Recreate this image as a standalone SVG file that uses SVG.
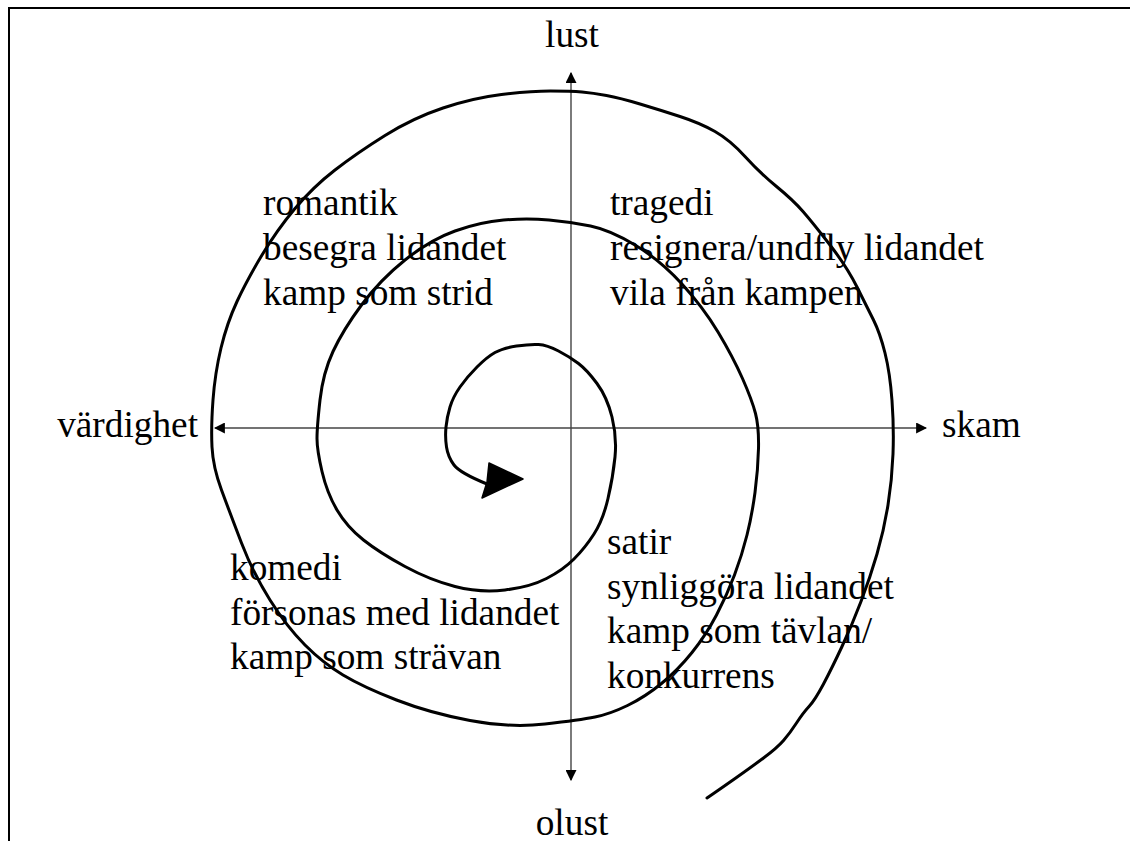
<svg xmlns="http://www.w3.org/2000/svg" width="1130" height="841" viewBox="0 0 1130 841">
<defs>
<marker id="ah" viewBox="0 0 10 10" refX="9" refY="5" markerWidth="11" markerHeight="11" markerUnits="userSpaceOnUse" orient="auto">
<path d="M0,0 L10,5 L0,10 Z" fill="#000"/>
</marker>
</defs>
<style>
.t{font-family:"Liberation Serif","Times New Roman",serif;font-size:37.3px;fill:#000}
.ax{stroke:#444;stroke-width:1.4;fill:none}
.sp{stroke:#000;stroke-width:3;fill:none;stroke-linejoin:round;stroke-linecap:round}
</style>
<rect width="1130" height="841" fill="#fff"/>
<g id="frame" stroke="#000" stroke-width="2" fill="none">
<path d="M9,841 L9,8 L1130,8"/>
</g>
<g id="axes">
<line class="ax" x1="571" y1="428" x2="571" y2="73" marker-end="url(#ah)"/>
<line class="ax" x1="571" y1="428" x2="571" y2="780" marker-end="url(#ah)"/>
<line class="ax" x1="571" y1="428" x2="926" y2="428" marker-end="url(#ah)"/>
<line class="ax" x1="571" y1="428" x2="215" y2="428" marker-end="url(#ah)"/>
</g>
<g id="spiral">
<path class="sp" d="M707,798 L715,792.5 Q723,787 736.5,777.5 Q750,768 763.5,758 Q777,748 783.5,740.5 Q790,733 796.5,723 Q803,713 809,706.5 Q815,700 823.5,684 Q832,668 842,646.5 Q852,625 861,601.5 Q870,578 877,554 Q884,530 888,505 Q892,480 893,454 Q894,428 892,400.5 Q890,373 885,353 Q880,333 873.5,320 Q867,307 857,287 Q847,267 830,245 Q813,223 803,211.5 Q793,200 776.5,186.5 Q760,173 745,156.5 Q730,140 715,131.5 Q700,123 680,116.5 Q660,110 640,104 Q620,98 606.5,95.5 Q593,93 582,92 Q571,91 550.5,91 Q530,91 501.5,94.5 Q473,98 443,108 Q413,118 385,135.5 Q357,153 335,170 Q313,187 295,208.5 Q277,230 262,255 Q247,280 237,301.5 Q227,323 221,348 Q215,373 213,400 Q211,427 212,447 Q213,467 221.5,490 Q230,513 241.5,543 Q253,573 270,600 Q287,627 305,645 Q323,663 343,675 Q363,687 396.5,700 Q430,713 470,720.5 Q510,728 545,724 Q580,720 595,717 Q610,714 627.5,705.5 Q645,697 661.5,683.5 Q678,670 692,652.5 Q706,635 716.5,615 Q727,595 734.5,575 Q742,555 747,535 Q752,515 755,492.5 Q758,470 758.5,448.5 Q759,427 755.5,413.5 Q752,400 742.5,378.5 Q733,357 718,332 Q703,307 681.5,283.5 Q660,260 635,245 Q610,230 590.5,226 Q571,222 549,220 Q527,218 503.5,220 Q480,222 455,231 Q430,240 405,260 Q380,280 361.5,305 Q343,330 333,351.5 Q323,373 320,400 Q317,427 317,438.5 Q317,450 322,471.5 Q327,493 337,510 Q347,527 363.5,540 Q380,553 405,566.5 Q430,580 455,586.5 Q480,593 505,590 Q530,587 546.5,578.5 Q563,570 574,559 Q585,548 594,534 Q603,520 608,498.5 Q613,477 615,457 Q617,437 612,417 Q607,397 597,383.5 Q587,370 578.5,363.5 Q570,357 558.5,351 Q547,345 538.5,344.5 Q530,344 516.5,346 Q503,348 495,352.5 Q487,357 477,367 Q467,377 460,387 Q453,397 450,407 Q447,417 446,427 Q445,437 446.5,447 Q448,457 454,465 Q460,473 487,484"/>
<path d="M489,463 L523,479 L482,498 L487,482 Z" fill="#000" stroke="#000" stroke-width="1.5" stroke-linejoin="round"/>
</g>
<g id="axis-labels">
<text class="t" x="572" y="47" text-anchor="middle">lust</text>
<text class="t" x="572" y="835" text-anchor="middle">olust</text>
<text class="t" x="198" y="437" text-anchor="end">värdighet</text>
<text class="t" x="942" y="437">skam</text>
</g>
<g id="romantik">
<text class="t" x="263" y="215">romantik</text>
<text class="t" x="263" y="260">besegra lidandet</text>
<text class="t" x="263" y="305">kamp som strid</text>
</g>
<g id="tragedi">
<text class="t" x="610" y="215">tragedi</text>
<text class="t" x="610" y="260">resignera/undfly lidandet</text>
<text class="t" x="610" y="305">vila från kampen</text>
</g>
<g id="komedi">
<text class="t" x="230" y="580">komedi</text>
<text class="t" x="230" y="625">försonas med lidandet</text>
<text class="t" x="230" y="669">kamp som strävan</text>
</g>
<g id="satir">
<text class="t" x="607" y="554">satir</text>
<text class="t" x="607" y="599">synliggöra lidandet</text>
<text class="t" x="607" y="643">kamp som tävlan/</text>
<text class="t" x="607" y="688">konkurrens</text>
</g>
</svg>
